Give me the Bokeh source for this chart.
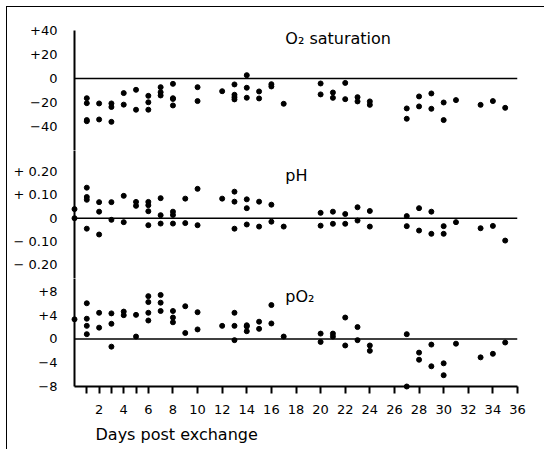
from bokeh.plotting import figure
from bokeh.models import FixedTicker, Span, Label, Range1d, Title
from bokeh.layouts import column
from bokeh.embed import file_html
from bokeh.resources import INLINE

# ---------------- data ----------------
o2_days = [1, 1, 1, 1, 2, 2, 3, 3, 3, 4, 4, 5, 5, 6, 6, 6, 7, 7, 7, 8, 8, 8, 8,
           10, 10, 12, 13, 13, 13, 13, 14, 14, 14, 15, 15, 16, 16, 17,
           20, 20, 21, 21, 22, 22, 23, 23, 24, 24, 27, 27, 28, 28, 29, 29,
           30, 30, 31, 33, 34, 35]
o2_values = [-16.6, -20.8, -35, -36, -21, -34.5, -21, -24, -36.5, -12.3, -22,
             -9.5, -26.3, -14.6, -20, -26.3, -7.3, -11.5, -14.3, -4.5, -16.6, -17.2, -22.7,
             -7.3, -19, -10.7, -5, -13.7, -15.7, -17.6, 2.8, -7.8, -16.2, -10.9, -16.8,
             -4.8, -6.7, -21.3, -4.2, -13.4, -11.8, -16.3, -3.7, -17.4, -15.7, -19.3,
             -19.3, -22.2, -25.2, -33.9, -15.1, -23.5, -12.6, -25.5, -20.2, -35,
             -18.2, -22.2, -19, -24.7]

ph_days = [0, 0, 1, 1, 1, 1, 2, 2, 2, 3, 3, 4, 4, 5, 5, 6, 6, 6, 6, 7, 7, 7,
           8, 8, 8, 9, 9, 10, 10, 12, 13, 13, 13, 14, 14, 14, 15, 15, 16, 16, 17,
           20, 20, 21, 21, 22, 22, 23, 23, 24, 24, 27, 27, 28, 28, 29, 29,
           30, 30, 31, 33, 34, 35]
ph_values = [0.039, 0.0, 0.131, 0.091, 0.079, -0.045, 0.069, 0.028, -0.07,
             0.069, -0.007, 0.096, -0.017, 0.07, 0.053, 0.07, 0.056, 0.03, -0.03,
             0.086, 0.013, -0.023, 0.028, 0.014, -0.023, 0.084, -0.021, 0.126, -0.03,
             0.084, 0.114, 0.071, -0.045, 0.081, 0.043, -0.027, 0.071, -0.036,
             0.058, -0.015, -0.036, 0.023, -0.032, 0.028, -0.024, 0.018, -0.024,
             0.047, -0.01, 0.031, -0.036, 0.009, -0.034, 0.043, -0.053, 0.028, -0.067,
             -0.034, -0.067, -0.017, -0.043, -0.033, -0.096]

po2_days = [0, 1, 1, 1, 1, 2, 2, 3, 3, 3, 4, 4, 5, 5, 6, 6, 6, 6, 7, 7, 7,
            8, 8, 8, 9, 9, 10, 10, 12, 13, 13, 13, 14, 14, 14, 15, 15, 16, 16, 17,
            20, 20, 21, 21, 22, 22, 23, 23, 24, 24, 27, 27, 28, 28, 29, 29,
            30, 30, 31, 33, 34, 35]
po2_values = [3.3, 6.0, 3.4, 2.2, 0.8, 4.4, 1.9, 4.3, 2.55, -1.3, 4.6, 4.0,
              4.05, 0.4, 7.2, 6.2, 4.4, 3.1, 7.4, 6.1, 4.7, 4.7, 3.6, 2.8, 5.5, 1.0,
              4.5, 1.6, 2.2, 4.4, 2.2, -0.2, 2.3, 2.1, 1.3, 2.9, 1.7, 5.7, 2.6, 0.4,
              0.9, -0.5, 0.9, 0.4, 3.6, -1.1, 2.0, -0.2, -1.1, -2.0, 0.8, -8.0,
              -2.3, -3.5, -0.95, -4.6, -4.1, -6.1, -0.8, -3.1, -2.5, -0.6]

o2_ticks = [40, 20, 0, -20, -40]
o2_tick_labels = ["+40", "+20", "0", "\u221220", "\u221240"]
ph_ticks = [0.2, 0.1, 0, -0.1, -0.2]
ph_tick_labels = ["+ 0.20", "+ 0.10", "0", "\u2212 0.10", "\u2212 0.20"]
po2_ticks = [8, 4, 0, -4, -8]
po2_tick_labels = ["+8", "+4", "0", "\u22124", "\u22128"]

day_ticks = [1, 2, 3, 4, 5, 6, 8, 10, 12, 14, 16, 18, 20, 22, 24, 26, 28, 30, 32, 34, 36]
day_tick_labels = ["", "2", "", "4", "", "6", "8", "10", "12", "14", "16", "18",
                   "20", "22", "24", "26", "28", "30", "32", "34", "36"]

titles = ["O\u2082 saturation", "pH", "pO\u2082"]
x_label = "Days post exchange"

FONT = "DejaVu Sans"
x_range = Range1d(0, 36)


def panel(days, values, yr, ticks, tick_labels, height, top, bottom, title, ty, show_x=False):
    p = figure(width=538, height=height, x_range=x_range, y_range=Range1d(*yr),
               output_backend="svg", toolbar_location=None,
               min_border_left=67, min_border_right=28,
               min_border_top=top, min_border_bottom=bottom,
               x_axis_location="below" if show_x else None)
    p.outline_line_color = None
    p.xgrid.visible = False
    p.ygrid.visible = False
    p.background_fill_color = "white"
    p.border_fill_color = "white"

    ya = p.yaxis[0]
    ya.ticker = FixedTicker(ticks=ticks)
    ya.major_label_overrides = dict(zip(ticks, tick_labels))
    ya.axis_line_width = 2
    ya.axis_line_color = "black"
    ya.major_tick_line_color = None
    ya.minor_tick_line_color = None
    ya.major_label_standoff = 11
    ya.major_label_text_font = FONT
    ya.major_label_text_font_size = "13px"
    ya.major_label_text_color = "black"

    if show_x:
        xa = p.xaxis[0]
        xa.ticker = FixedTicker(ticks=day_ticks)
        xa.major_label_overrides = dict(zip(day_ticks, day_tick_labels))
        xa.axis_line_width = 2
        xa.axis_line_color = "black"
        xa.major_tick_line_width = 2
        xa.major_tick_line_color = "black"
        xa.major_tick_out = 7
        xa.major_tick_in = 0
        xa.minor_tick_line_color = None
        xa.major_label_standoff = 11
        xa.major_label_text_font = FONT
        xa.major_label_text_font_size = "13px"
        xa.major_label_text_color = "black"

    p.add_layout(Span(location=0, dimension="width", line_color="black", line_width=1.5))
    p.scatter(days, values, size=5, color="black", level="overlay")
    p.add_layout(Label(x=17.13, y=ty, text=title, text_font=FONT, text_font_size="16px",
                       text_color="black", text_baseline="alphabetic", text_align="left"))
    return p


p1 = panel(o2_days, o2_values, (-60.63, 40.42), o2_ticks, o2_tick_labels,
           143, 23, 0, titles[0], 33.9)
p2 = panel(ph_days, ph_values, (-0.2588, 0.2906), ph_ticks, ph_tick_labels,
           128, 0, 0, titles[1], 0.183)
p3 = panel(po2_days, po2_values, (-8, 10.1667), po2_ticks, po2_tick_labels,
           172, 0, 63, titles[2], 7.08, show_x=True)
p3.add_layout(Title(text=x_label, align="left", offset=21, standoff=13,
                    text_font=FONT, text_font_size="16px", text_font_style="normal",
                    text_color="black"), "below")

layout = column(p1, p2, p3, spacing=0, margin=(7, 0, 0, 7),
                styles={"box-shadow": "-1px -1px 0px 0px black"})

open("out.html", "w").write(file_html(layout, INLINE))
